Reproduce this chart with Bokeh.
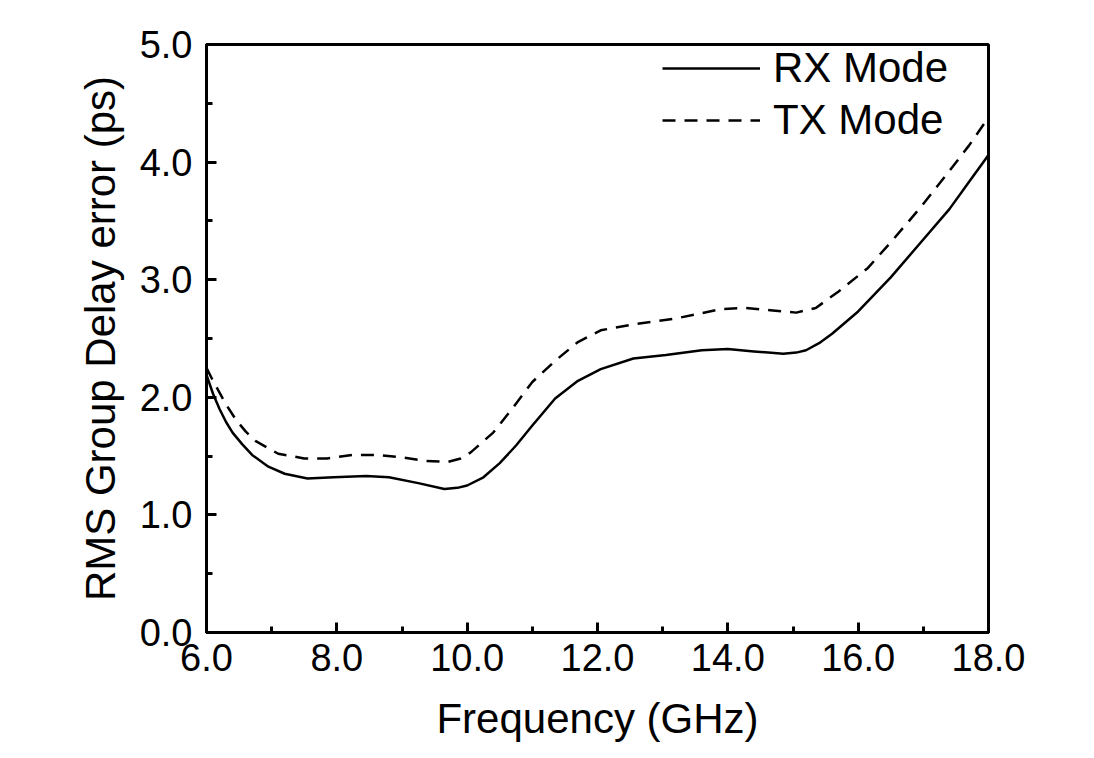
from bokeh.plotting import figure
from bokeh.models import Legend, LegendItem, SingleIntervalTicker, NumeralTickFormatter, Range1d
from bokeh.embed import file_html
from bokeh.resources import INLINE

rx_freq = [6.0, 6.1, 6.2, 6.3, 6.4, 6.55, 6.7, 6.95, 7.2, 7.55, 7.95, 8.45, 8.8, 9.25, 9.65, 9.85, 10.0,
           10.25, 10.5, 10.75, 11.0, 11.35, 11.7, 12.05, 12.55, 13.05, 13.6, 14.0, 14.4, 14.85, 15.05,
           15.2, 15.4, 15.6, 16.0, 16.5, 16.95, 17.4, 17.7, 18.0]
rx_vals = [2.19, 2.03, 1.90, 1.79, 1.70, 1.60, 1.51, 1.41, 1.35, 1.31, 1.32, 1.33, 1.32, 1.27, 1.22, 1.23, 1.25,
           1.32, 1.44, 1.59, 1.76, 1.99, 2.14, 2.24, 2.33, 2.36, 2.40, 2.41, 2.39, 2.37, 2.38,
           2.40, 2.46, 2.54, 2.73, 3.02, 3.31, 3.60, 3.83, 4.06]

tx_freq = [6.0, 6.1, 6.2, 6.3, 6.45, 6.6, 6.75, 7.1, 7.5, 7.85, 8.25, 8.6, 9.0, 9.35, 9.7, 9.9, 10.05, 10.4,
           10.7, 11.0, 11.35, 11.7, 12.05, 12.55, 13.2, 13.9, 14.25, 14.65, 15.05, 15.35, 15.5, 15.7,
           16.15, 16.55, 16.95, 17.35, 17.7, 18.0]
tx_vals = [2.25, 2.14, 2.04, 1.94, 1.81, 1.71, 1.63, 1.52, 1.48, 1.48, 1.51, 1.51, 1.49, 1.46, 1.45, 1.48, 1.53, 1.70,
           1.91, 2.13, 2.31, 2.47, 2.57, 2.62, 2.67, 2.75, 2.76, 2.74, 2.72, 2.76, 2.82, 2.90,
           3.10, 3.35, 3.61, 3.89, 4.14, 4.38]

series_labels = ["RX Mode", "TX Mode"]
x_label = "Frequency (GHz)"
y_label = "RMS Group Delay error (ps)"

FONT = "Liberation Sans"

p = figure(width=1086, height=750, output_backend="svg", toolbar_location=None,
           x_range=Range1d(6, 18), y_range=Range1d(0, 5),
           min_border_left=206, min_border_right=98, min_border_top=44, min_border_bottom=118)
p.background_fill_color = "white"
p.border_fill_color = "white"
p.grid.visible = False
p.outline_line_color = "black"
p.outline_line_width = 3

r1 = p.line(rx_freq, rx_vals, line_color="black", line_width=2.5, line_join="round")
r2 = p.line(tx_freq, tx_vals, line_color="black", line_width=2.5, line_dash="13 9", line_join="round")

for ax in (p.xaxis[0], p.yaxis[0]):
    ax.axis_line_width = 3
    ax.major_tick_line_width = 3
    ax.minor_tick_line_width = 3
    ax.major_tick_in = 10
    ax.major_tick_out = 0
    ax.minor_tick_in = 6
    ax.minor_tick_out = 0
    ax.major_label_text_font = FONT
    ax.major_label_text_font_size = "38px"
    ax.major_label_text_color = "black"
    ax.axis_label_text_font = FONT
    ax.axis_label_text_font_size = "42px"
    ax.axis_label_text_font_style = "normal"
    ax.axis_label_text_color = "black"
    ax.formatter = NumeralTickFormatter(format="0.0")

p.xaxis[0].ticker = SingleIntervalTicker(interval=2, num_minor_ticks=2)
p.yaxis[0].ticker = SingleIntervalTicker(interval=1, num_minor_ticks=2)
p.xaxis[0].axis_label = x_label
p.yaxis[0].axis_label = y_label
p.xaxis[0].major_label_standoff = 11
p.yaxis[0].major_label_standoff = 14
p.xaxis[0].axis_label_standoff = 21
p.yaxis[0].axis_label_standoff = 13

legend = Legend(items=[LegendItem(label=series_labels[0], renderers=[r1]),
                       LegendItem(label=series_labels[1], renderers=[r2])],
                location=(456, 486))
legend.border_line_color = None
legend.background_fill_alpha = 0
legend.glyph_width = 98
legend.glyph_height = 52
legend.label_height = 52
legend.spacing = 0
legend.padding = 0
legend.margin = 0
legend.label_standoff = 13
legend.label_text_font = FONT
legend.label_text_font_size = "42px"
legend.label_text_color = "black"
p.add_layout(legend, "center")

open("out.html", "w").write(file_html(p, INLINE))
